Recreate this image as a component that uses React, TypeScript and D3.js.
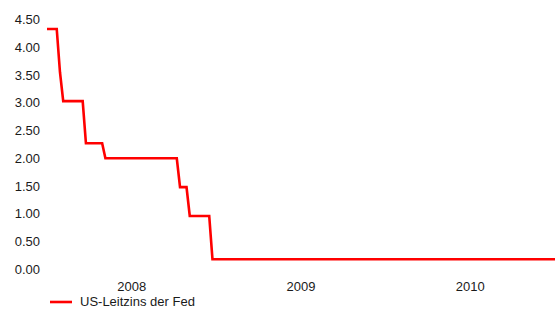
import React from 'react'
import * as d3 from 'd3'

// Fed-Leitzins (Datum des Knicks, Wert)
const dates = [
  '2008-01-01', '2008-01-22', '2008-01-29', '2008-02-05', '2008-03-18', '2008-03-25',
  '2008-04-29', '2008-05-06', '2008-10-07', '2008-10-14', '2008-10-28', '2008-11-04',
  '2008-12-16', '2008-12-23', '2011-01-01',
]
const rates = [4.33, 4.33, 3.55, 3.03, 3.03, 2.27, 2.27, 2.0, 2.0, 1.48, 1.48, 0.96, 0.96, 0.18, 0.18]
const yTicks = [0, 0.5, 1, 1.5, 2, 2.5, 3, 3.5, 4, 4.5]
const yearLabels = ['2008', '2009', '2010']
const seriesName = 'US-Leitzins der Fed'

const W = 555
const H = 309
const FONT = 'Liberation Sans, Arial, sans-serif'

const App = () => {
  const ref = React.useRef<SVGSVGElement | null>(null)

  React.useEffect(() => {
    const svg = d3.select(ref.current)
    svg.selectAll('*').remove()

    const parse = d3.timeParse('%Y-%m-%d')
    const data = dates.map((d, i) => ({ date: parse(d) as Date, value: rates[i] }))

    const x = d3
      .scaleTime()
      .domain([parse('2008-01-01') as Date, parse('2011-01-01') as Date])
      .range([47, 555])
    const y = d3.scaleLinear().domain([0, 4.5]).range([269.3, 19.5])

    // y-Achse (nur Beschriftung)
    svg
      .append('g')
      .selectAll('text')
      .data(yTicks)
      .enter()
      .append('text')
      .attr('x', 40)
      .attr('y', (d) => y(d))
      .attr('dy', '0.35em')
      .attr('text-anchor', 'end')
      .attr('font-family', FONT)
      .attr('font-size', 13)
      .attr('fill', '#1a1a1a')
      .text((d) => d3.format('.2f')(d))

    // x-Achse: Jahreslabels mittig im Jahr
    svg
      .append('g')
      .selectAll('text')
      .data(yearLabels)
      .enter()
      .append('text')
      .attr('x', (d) => x(new Date(+d, 6, 2)))
      .attr('y', 286)
      .attr('dy', '0.35em')
      .attr('text-anchor', 'middle')
      .attr('font-family', FONT)
      .attr('font-size', 13)
      .attr('fill', '#1a1a1a')
      .text((d) => d)

    const line = d3
      .line<{ date: Date; value: number }>()
      .x((d) => x(d.date))
      .y((d) => y(d.value))

    svg
      .append('path')
      .datum(data)
      .attr('d', line)
      .attr('fill', 'none')
      .attr('stroke', '#ff0000')
      .attr('stroke-width', 2.6)
      .attr('stroke-linejoin', 'miter')

    // Legende (ganz unten, wie im Original knapp am Rand)
    const lg = svg.append('g').attr('transform', 'translate(50,302)')
    lg.append('line')
      .attr('x1', 0)
      .attr('x2', 22)
      .attr('stroke', '#ff0000')
      .attr('stroke-width', 2.6)
    lg.append('text')
      .attr('x', 30)
      .attr('dy', '0.33em')
      .attr('font-family', FONT)
      .attr('font-size', 13)
      .attr('fill', '#1a1a1a')
      .text(seriesName)
  }, [])

  return (
    <svg
      ref={ref}
      width={W}
      height={H}
      style={{ position: 'absolute', left: 0, top: 0, background: '#fff' }}
    ></svg>
  )
}

export default App
